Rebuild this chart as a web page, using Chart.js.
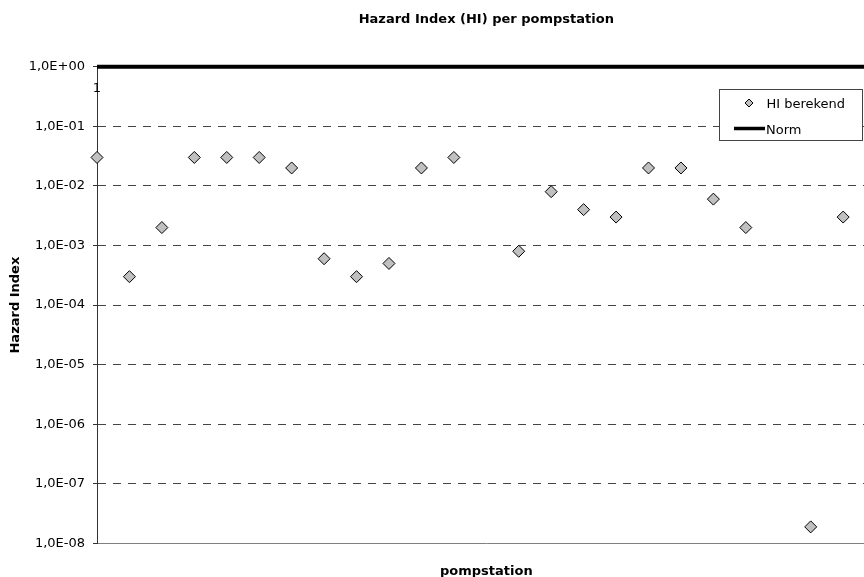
<!DOCTYPE html>
<html>
<head>
<meta charset="utf-8">
<script src="https://cdn.jsdelivr.net/npm/chart.js@4/dist/chart.umd.min.js"></script>
<style>
  html, body { margin: 0; padding: 0; background: #fff; overflow: hidden; width: 864px; height: 577px; }
  canvas { display: block; }
</style>
</head>
<body>
<canvas id="c" width="890" height="577"></canvas>
<script>
const chartTitle = 'Hazard Index (HI) per pompstation';
const xAxisTitle = 'pompstation';
const yAxisTitle = 'Hazard Index';
const categories = ['1','2','3','4','5','6','7','8','9','10','11','12','13','14','15','16','17','18','19','20','21','22','23','24','25'];
const hiLabel = 'HI berekend';
const hiValues = [3e-2, 3e-4, 2e-3, 3e-2, 3e-2, 3e-2, 2e-2, 6e-4, 3e-4, 5e-4, 2e-2, 3e-2, null, 8e-4, 8e-3, 4e-3, 3e-3, 2e-2, 2e-2, 6e-3, 2e-3, null, 1.9e-8, 3e-3, null];
const normLabel = 'Norm';
const normValues = [1,1,1,1,1,1,1,1,1,1,1,1,1,1,1,1,1,1,1,1,1,1,1,1,1];
const yTickValues = [1e-8, 1e-7, 1e-6, 1e-5, 1e-4, 1e-3, 1e-2, 1e-1, 1];
const yTickLabels = ['1,0E-08','1,0E-07','1,0E-06','1,0E-05','1,0E-04','1,0E-03','1,0E-02','1,0E-01','1,0E+00'];

Chart.defaults.font.family = "'DejaVu Sans', Verdana, sans-serif";
Chart.defaults.color = '#000';

const FONT = "'DejaVu Sans', Verdana, sans-serif";

const overlayPlugin = {
  id: 'overlay',
  afterDraw(chart) {
    const ctx = chart.ctx;
    // data label "1" for first Norm point
    const normMeta = chart.getDatasetMeta(1);
    const p0 = normMeta.data[0];
    ctx.save();
    ctx.font = '13px ' + FONT;
    ctx.fillStyle = '#000';
    ctx.textAlign = 'center';
    ctx.textBaseline = 'alphabetic';
    ctx.fillText(String(normValues[0]), p0.x, p0.y + 25.3);

    // legend box
    const bx = 719.5, by = 89.5, bw = 143, bh = 51;
    ctx.fillStyle = '#fff';
    ctx.fillRect(bx, by, bw, bh);
    ctx.strokeStyle = '#444';
    ctx.lineWidth = 1;
    ctx.strokeRect(bx, by, bw, bh);

    const ds = chart.data.datasets;
    // HI marker (diamond)
    const cx = 749, cy = 103, r = 4;
    ctx.beginPath();
    ctx.moveTo(cx, cy - r); ctx.lineTo(cx + r, cy); ctx.lineTo(cx, cy + r); ctx.lineTo(cx - r, cy); ctx.closePath();
    ctx.fillStyle = '#c0c0c0';
    ctx.fill();
    ctx.strokeStyle = '#000';
    ctx.lineWidth = 1;
    ctx.stroke();
    ctx.fillStyle = '#000';
    ctx.textAlign = 'left';
    ctx.fillText(ds[0].label, 766.5, 108.3);

    // Norm line marker
    ctx.beginPath();
    ctx.moveTo(734, 128.5); ctx.lineTo(765, 128.5);
    ctx.lineWidth = 3.5;
    ctx.strokeStyle = '#000';
    ctx.stroke();
    ctx.fillText(ds[1].label, 766, 134);
    ctx.restore();
  }
};

new Chart(document.getElementById('c'), {
  type: 'line',
  data: {
    labels: categories,
    datasets: [
      {
        label: hiLabel,
        data: hiValues,
        showLine: false,
        pointStyle: 'rectRot',
        pointRadius: 6,
        pointHoverRadius: 6,
        pointBackgroundColor: '#c0c0c0',
        pointBorderColor: '#000',
        pointBorderWidth: 1,
        backgroundColor: '#c0c0c0',
        borderColor: '#000',
        clip: false
      },
      {
        label: normLabel,
        data: normValues,
        borderColor: '#000',
        borderWidth: 4,
        pointRadius: 0,
        pointHoverRadius: 0,
        fill: false,
        clip: false
      }
    ]
  },
  options: {
    responsive: false,
    animation: false,
    events: [],
    layout: { padding: { left: 0, right: 14.4, top: 0, bottom: 0 } },
    plugins: {
      legend: { display: false },
      tooltip: { enabled: false },
      title: {
        display: true,
        text: chartTitle,
        fullSize: false,
        font: { size: 13, weight: 'bold', family: FONT },
        color: '#000',
        padding: { top: 12.2, bottom: 38.9 }
      }
    },
    scales: {
      x: {
        type: 'category',
        offset: false,
        grid: { display: false },
        border: { display: true, color: '#808080', width: 1 },
        ticks: { display: false },
        title: {
          display: true,
          text: xAxisTitle,
          font: { size: 13, weight: 'bold', family: FONT },
          color: '#000',
          padding: { top: 0, bottom: -2.8 }
        },
        afterFit(s) { s.height = 33.5; }
      },
      y: {
        type: 'logarithmic',
        min: 1e-8,
        max: 1,
        grid: {
          color: '#444',
          lineWidth: 1,
          drawTicks: true,
          tickLength: 4,
          tickColor: '#333',
          tickWidth: 1
        },
        border: { display: true, color: '#333', width: 1, dash: [8, 7] },
        ticks: {
          padding: 8,
          font: { size: 13, family: FONT },
          color: '#000',
          autoSkip: false,
          callback(value) {
            const i = yTickValues.findIndex(v => Math.abs(Math.log10(v) - Math.log10(value)) < 1e-6);
            return i >= 0 ? yTickLabels[i] : '';
          }
        },
        afterBuildTicks(s) { s.ticks = yTickValues.map(v => ({ value: v })); },
        title: {
          display: true,
          text: yAxisTitle,
          font: { size: 13, weight: 'bold', family: FONT },
          color: '#000',
          padding: { top: 7.6, bottom: 0 }
        },
        afterFit(s) { s.width = 97; }
      }
    }
  },
  plugins: [overlayPlugin]
});
</script>
</body>
</html>
